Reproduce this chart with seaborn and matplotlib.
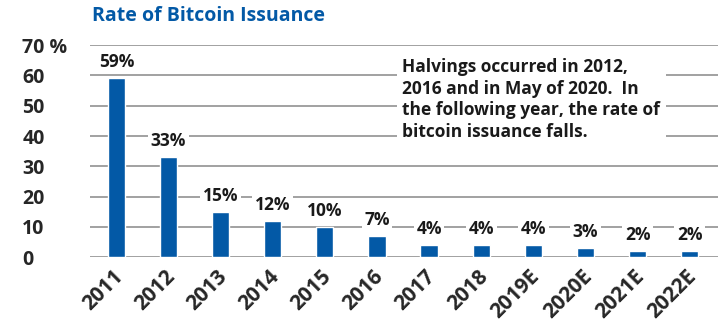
import matplotlib
matplotlib.use("Agg")
import matplotlib.pyplot as plt
import matplotlib.transforms as mtransforms
import seaborn as sns
import pandas as pd

years = ["2011", "2012", "2013", "2014", "2015", "2016", "2017", "2018",
         "2019E", "2020E", "2021E", "2022E"]
issuance = [59, 33, 15, 12, 10, 7, 4, 4, 4, 3, 2, 2]
ytick_values = [0, 10, 20, 30, 40, 50, 60, 70]
ytick_labels = ["0", "10", "20", "30", "40", "50", "60", "70 %"]

title = "Rate of Bitcoin Issuance"
note = ("Halvings occurred in 2012,\n2016 and in May of 2020.  In\n"
        "the following year, the rate of\nbitcoin issuance falls.")

sns.set_style("white")
plt.rcParams["font.family"] = ["Open Sans", "DejaVu Sans"]

blue = "#0359a6"
df = pd.DataFrame({"year": years, "rate": issuance})

fig = plt.figure(figsize=(7.22, 3.29), dpi=100)
ax = fig.add_axes([0.125, 0.218, 0.87, 0.645])

sns.barplot(data=df, x="year", y="rate", color=blue, width=0.33,
            saturation=1, ax=ax, zorder=3)

ax.set_ylim(0, 70)
ax.set_xlim(-0.5, 11.55)
ax.set_yticks(ytick_values)
ax.set_yticklabels(ytick_labels, fontsize=14, fontweight="bold")
ax.yaxis.grid(True, color="#9a9a9a", linewidth=1.3, zorder=0)
ax.set_axisbelow(True)
ax.tick_params(axis="y", length=0, pad=49)
for lbl in ax.get_yticklabels():
    lbl.set_horizontalalignment("left")

ax.set_xticks(range(len(years)))
ax.set_xticklabels(years, rotation=45, ha="right", rotation_mode="anchor",
                   fontsize=15, fontweight="bold")
ax.tick_params(axis="x", length=0, pad=6)
shift = mtransforms.ScaledTranslation(-3 / 72, 0, fig.dpi_scale_trans)
for lbl in ax.get_xticklabels():
    lbl.set_transform(lbl.get_transform() + shift)
ax.set_xlabel("")
ax.set_ylabel("")
for s in ax.spines.values():
    s.set_visible(False)

# value labels with white backing that breaks the gridlines
for i, v in enumerate(issuance):
    ax.annotate(f"{v}%", xy=(i, v), xytext=(0, 5), textcoords="offset points",
                ha="center", va="bottom", fontsize=12.5, fontweight="bold",
                color="#1a1a1a", zorder=5,
                bbox=dict(boxstyle="square,pad=0.15", fc="white", ec="none"))

fig.text(0.128, 0.92, title, fontsize=14, fontweight="bold", color=blue,
         ha="left", va="bottom")

ax.text(0.497, 0.94, note, transform=ax.transAxes, ha="left", va="top",
        fontsize=12.5, fontweight="bold", color="#1a1a1a", linespacing=1.27,
        zorder=6,
        bbox=dict(boxstyle="square,pad=0.3", fc="white", ec="none"))

fig.savefig("out.png", dpi=100)
